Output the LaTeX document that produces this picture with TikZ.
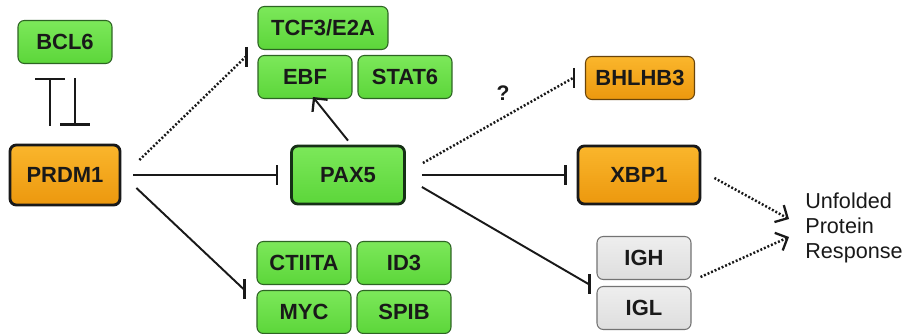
\documentclass[tikz,border=0pt]{standalone}
\usepackage{fontspec}
\setmainfont{Liberation Sans}
\usetikzlibrary{arrows.meta}
\definecolor{gfill}{RGB}{92,214,58}
\definecolor{gtop}{RGB}{124,232,90}
\definecolor{gline}{RGB}{45,100,35}
\definecolor{ofill}{RGB}{236,152,14}
\definecolor{otop}{RGB}{250,182,44}
\definecolor{oline}{RGB}{105,68,10}
\definecolor{grfill}{RGB}{222,222,222}
\definecolor{grtop}{RGB}{238,238,238}
\definecolor{grline}{RGB}{115,115,115}
\definecolor{ink}{RGB}{25,25,25}
\tikzset{
  box/.style={rounded corners=3.6pt, inner sep=0pt, text=ink,
    font=\fontsize{12.5}{14}\selectfont\bfseries,
    minimum width=1.88cm, minimum height=0.86cm},
  gbox/.style={box, draw=gline, line width=0.6pt, top color=gtop, bottom color=gfill},
  gboxk/.style={gbox, draw=ink!90!green, line width=1.6pt},
  obox/.style={box, draw=oline, line width=0.6pt, top color=otop, bottom color=ofill},
  oboxk/.style={obox, draw=ink, line width=1.6pt},
  grbox/.style={box, draw=grline, line width=0.6pt, top color=grtop, bottom color=grfill},
  con/.style={draw=ink, line width=1.1pt},
  dotcon/.style={draw=ink, line width=1.4pt, dash pattern=on 1.1pt off 1.1pt},
  vbar/.style={draw=ink, line width=1.3pt},
  inh/.style={-{Bar[width=11pt,line width=1.3pt]}},
  inhbig/.style={-{Bar[width=17pt,line width=1.3pt]}},
  act/.style={-{Straight Barb[length=5.5pt,width=11pt,line width=1.3pt]}}
}
\begin{document}
\begin{tikzpicture}[x=0.02cm,y=-0.02cm]
\useasboundingbox (0,0) rectangle (905,334);
\fill[white] (0,0) rectangle (905,334);
% nodes
\node[gbox] (bcl6) at (65,42) {BCL6};
\node[oboxk, minimum width=2.2cm, minimum height=1.2cm] (prdm1) at (65,175) {PRDM1};
\node[gbox, minimum width=2.6cm] (tcf) at (323,28) {TCF3/E2A};
\node[gbox] (ebf) at (305,77) {EBF};
\node[gbox] (stat6) at (405,77) {STAT6};
\node[gboxk, minimum width=2.26cm, minimum height=1.16cm] (pax5) at (348,175) {PAX5};
\node[gbox] (ctiita) at (304,263) {CTIITA};
\node[gbox] (id3) at (404,263) {ID3};
\node[gbox] (myc) at (304,312) {MYC};
\node[gbox] (spib) at (404,312) {SPIB};
\node[obox, minimum width=2.18cm] (bhlhb3) at (640,78) {BHLHB3};
\node[oboxk, minimum width=2.44cm, minimum height=1.16cm] (xbp1) at (639,175) {XBP1};
\node[grbox] (igh) at (644,258) {IGH};
\node[grbox] (igl) at (644,308) {IGL};
\node[anchor=west, inner sep=0pt, align=left, text=ink,
      font=\fontsize{12.3}{14.2}\selectfont] (upr) at (805,228) {Unfolded\\Protein\\Response};
\node[inner sep=0pt, text=ink, font=\fontsize{12}{14}\selectfont\bfseries] (q) at (503,93) {?};
% connectors
\draw[con,inhbig] ([shift={(-15,-18)}]prdm1.north) -- ([shift={(-15,14)}]bcl6.south);
\draw[con,inhbig] ([shift={(10,14)}]bcl6.south) -- ([shift={(10,-18)}]prdm1.north);
% PRDM1 -> TCF3/E2A, EBF (dotted, vertical bar)
\draw[dotcon] ([shift={(18,-15)}]prdm1.east) -- ([shift={(-12,-20)}]ebf.west);
\draw[vbar] ([shift={(-11,-30)}]ebf.west) -- ([shift={(-11,-10)}]ebf.west);
% PRDM1 -> PAX5
\draw[con,inh] ([shift={(12,0)}]prdm1.east) -- ([shift={(-12,0)}]pax5.west);
% PRDM1 -> CTIITA/ID3/MYC/SPIB
\draw[con] ([shift={(15,13)}]prdm1.east) -- ([shift={(-13,4)}]ctiita.south west);
\draw[vbar] ([shift={(-12,-6)}]ctiita.south west) -- ([shift={(-12,14)}]ctiita.south west);
% PAX5 -> EBF
\draw[con,act] ([shift={(0,-4)}]pax5.north) -- ([shift={(8,-2)}]ebf.south);
% PAX5 -> BHLHB3 (dotted)
\draw[dotcon] ([shift={(17,-12)}]pax5.east) -- ([shift={(-12,0)}]bhlhb3.west);
\draw[vbar] ([shift={(-11,-10)}]bhlhb3.west) -- ([shift={(-11,10)}]bhlhb3.west);
% PAX5 -> XBP1
\draw[con,inh] ([shift={(16,0)}]pax5.east) -- ([shift={(-10,0)}]xbp1.west);
% PAX5 -> IGH/IGL
\draw[con] ([shift={(16,12)}]pax5.east) -- ([shift={(-8,4)}]igh.south west);
\draw[vbar] ([shift={(-7,-6)}]igh.south west) -- ([shift={(-7,14)}]igh.south west);
% to Unfolded Protein Response
\draw[dotcon,act] ([shift={(13,3)}]xbp1.east) -- ([shift={(-16,-9)}]upr.west);
\draw[dotcon,act] ([shift={(9,-3)}]igh.south east) -- ([shift={(-16,9)}]upr.west);
\end{tikzpicture}
\end{document}
